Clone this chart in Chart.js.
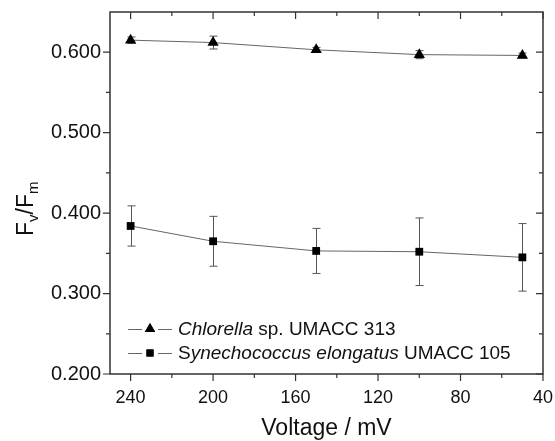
<!DOCTYPE html>
<html>
<head>
<meta charset="utf-8">
<script src="https://cdn.jsdelivr.net/npm/chart.js@4.4.1/dist/chart.umd.min.js"></script>
<style>
  html, body { margin: 0; padding: 0; background: #fff; }
  #wrap { width: 555px; height: 441px; position: relative; }
</style>
</head>
<body>
<div id="wrap"><canvas id="chart"></canvas></div>
<script>
// values
const voltage = [240, 200, 150, 100, 50];
const chlorella = [0.615, 0.612, 0.603, 0.597, 0.596];
const chlorellaErr = [0.004, 0.008, 0.003, 0.005, 0.003];
const synecho = [0.384, 0.365, 0.353, 0.352, 0.345];
const synechoErr = [0.025, 0.031, 0.028, 0.042, 0.042];

const xMajor = [240, 200, 160, 120, 80, 40];
const xMinor = [220, 180, 140, 100, 60];
const yMajor = [0.2, 0.3, 0.4, 0.5, 0.6];
const yMinor = [0.25, 0.35, 0.45, 0.55];

const FONT = "'Liberation Sans', Arial, sans-serif";
const LINE = '#666';
const AXIS = '#333';

const toPoints = (ys) => voltage.map((x, i) => ({ x: x, y: ys[i] }));

const errorBars = {
  id: 'errorBars',
  beforeDatasetsDraw(chart) {
    const { ctx, scales: { x, y } } = chart;
    const sets = [[chlorella, chlorellaErr], [synecho, synechoErr]];
    ctx.save();
    ctx.strokeStyle = '#555';
    ctx.lineWidth = 1;
    sets.forEach(([vals, errs]) => {
      vals.forEach((v, i) => {
        const px = Math.round(x.getPixelForValue(voltage[i])) + 0.5;
        const top = y.getPixelForValue(v + errs[i]);
        const bot = y.getPixelForValue(v - errs[i]);
        ctx.beginPath();
        ctx.moveTo(px, top); ctx.lineTo(px, bot);
        ctx.moveTo(px - 4, top); ctx.lineTo(px + 4, top);
        ctx.moveTo(px - 4, bot); ctx.lineTo(px + 4, bot);
        ctx.stroke();
      });
    });
    ctx.restore();
  }
};

const frameAndLegend = {
  id: 'frameAndLegend',
  afterDraw(chart) {
    const { ctx, chartArea: a, scales: { x, y } } = chart;
    ctx.save();
    // frame
    ctx.strokeStyle = AXIS;
    ctx.lineWidth = 1.5;
    ctx.strokeRect(a.left, a.top, a.right - a.left, a.bottom - a.top);

    // ticks: bottom/left outward, top/right inward
    ctx.lineWidth = 1.2;
    ctx.beginPath();
    const xt = (vals, len) => vals.forEach(v => {
      const px = x.getPixelForValue(v);
      ctx.moveTo(px, a.bottom); ctx.lineTo(px, a.bottom + len);
      ctx.moveTo(px, a.top); ctx.lineTo(px, a.top + len);
    });
    const yt = (vals, len) => vals.forEach(v => {
      const py = y.getPixelForValue(v);
      ctx.moveTo(a.left, py); ctx.lineTo(a.left - len, py);
      ctx.moveTo(a.right, py); ctx.lineTo(a.right - len, py);
    });
    xt(xMajor, 7); xt(xMinor, 4);
    yt(yMajor, 7); yt(yMinor, 4);
    ctx.stroke();

    // legend, line broken around the marker
    const rows = [
      { style: 'triangle', r: 6, y: 329, parts: [['Chlorella', true], [' sp. UMACC 313', false]] },
      { style: 'rect', r: 5, y: 353, parts: [['S', false], ['ynechococcus elongatus', true], [' UMACC 105', false]] }
    ];
    rows.forEach(row => {
      ctx.strokeStyle = LINE;
      ctx.lineWidth = 1;
      ctx.beginPath();
      ctx.moveTo(128, row.y + 0.5); ctx.lineTo(142, row.y + 0.5);
      ctx.moveTo(158, row.y + 0.5); ctx.lineTo(172, row.y + 0.5);
      ctx.stroke();
      ctx.fillStyle = '#000';
      Chart.helpers.drawPoint(ctx, { pointStyle: row.style, radius: row.r, borderWidth: 0 }, 150, row.y);
      ctx.fill();
      let tx = 178;
      ctx.textBaseline = 'middle';
      ctx.textAlign = 'left';
      ctx.fillStyle = '#111';
      row.parts.forEach(([t, it]) => {
        ctx.font = (it ? 'italic ' : '') + '19px ' + FONT;
        ctx.fillText(t, tx, row.y + 1);
        tx += ctx.measureText(t).width;
      });
    });

    // y title F_v/F_m
    ctx.translate(33, 236);
    ctx.rotate(-Math.PI / 2);
    ctx.textBaseline = 'alphabetic';
    ctx.fillStyle = '#111';
    let p = 0;
    const put = (t, size, dy) => {
      ctx.font = size + 'px ' + FONT;
      ctx.fillText(t, p, dy);
      p += ctx.measureText(t).width;
    };
    put('F', 23, 0); put('v', 15, 5); put('/F', 23, 0); put('m', 15, 5);
    ctx.restore();
  }
};

new Chart(document.getElementById('chart'), {
  type: 'line',
  data: {
    datasets: [
      {
        label: 'Chlorella sp. UMACC 313',
        data: toPoints(chlorella),
        borderColor: LINE,
        borderWidth: 1,
        pointStyle: 'triangle',
        pointRadius: 6.5,
        pointBackgroundColor: '#000',
        pointBorderColor: '#000',
        pointBorderWidth: 0,
        tension: 0
      },
      {
        label: 'Synechococcus elongatus UMACC 105',
        data: toPoints(synecho),
        borderColor: LINE,
        borderWidth: 1,
        pointStyle: 'rect',
        pointRadius: 5.5,
        pointBackgroundColor: '#000',
        pointBorderColor: '#000',
        pointBorderWidth: 0,
        tension: 0
      }
    ]
  },
  options: {
    responsive: true,
    maintainAspectRatio: false,
    animation: false,
    layout: { padding: { left: 0, top: 12, right: 12, bottom: 0 } },
    plugins: {
      legend: { display: false },
      tooltip: { enabled: false }
    },
    scales: {
      x: {
        type: 'linear',
        min: 40,
        max: 250,
        reverse: true,
        afterBuildTicks: (s) => { s.ticks = xMajor.map(v => ({ value: v })); },
        afterFit: (s) => { s.height = 67; s.paddingLeft = 0; s.paddingRight = 0; },
        grid: { display: false, drawTicks: false },
        border: { display: false },
        ticks: {
          padding: 13,
          maxRotation: 0,
          autoSkip: false,
          color: '#111',
          font: { family: FONT, size: 18 }
        },
        title: {
          display: true,
          text: 'Voltage / mV',
          color: '#111',
          font: { family: FONT, size: 23, lineHeight: 1.05 },
          padding: { top: 6, bottom: 0 }
        }
      },
      y: {
        min: 0.2,
        max: 0.65,
        afterBuildTicks: (s) => { s.ticks = yMajor.map(v => ({ value: v })); },
        afterFit: (s) => { s.width = 110; s.paddingTop = 0; s.paddingBottom = 0; },
        grid: { display: false, drawTicks: false },
        border: { display: false },
        ticks: {
          padding: 9,
          autoSkip: false,
          color: '#111',
          font: { family: FONT, size: 20 },
          callback: (v) => Number(v).toFixed(3)
        }
      }
    }
  },
  plugins: [errorBars, frameAndLegend]
});
</script>
</body>
</html>
